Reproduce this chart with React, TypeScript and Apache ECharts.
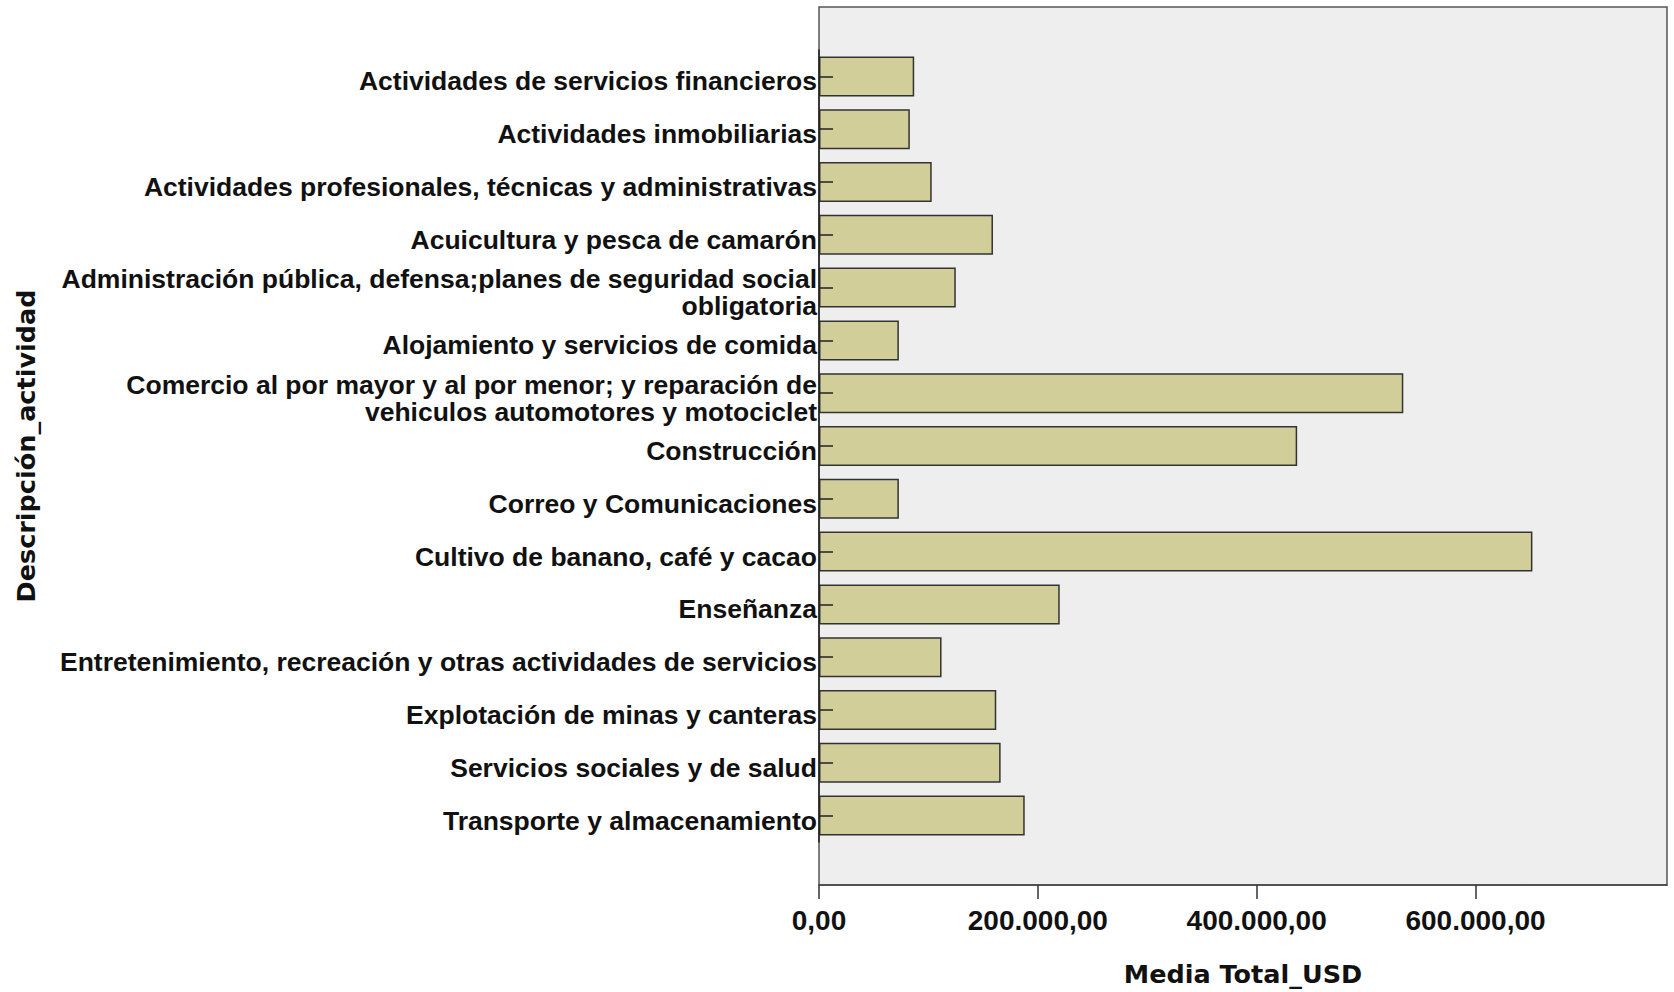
import React, { useEffect, useRef } from "react";
import * as echarts from "echarts";

const categories: string[] = [
  "Actividades de servicios financieros",
  "Actividades inmobiliarias",
  "Actividades profesionales, técnicas y administrativas",
  "Acuicultura y pesca de camarón",
  "Administración pública, defensa;planes de seguridad social\nobligatoria",
  "Alojamiento y servicios de comida",
  "Comercio al por mayor y al por menor; y reparación de\nvehiculos automotores y motociclet",
  "Construcción",
  "Correo y Comunicaciones",
  "Cultivo de banano, café y cacao",
  "Enseñanza",
  "Entretenimiento, recreación y otras actividades de servicios",
  "Explotación de minas y canteras",
  "Servicios sociales y de salud",
  "Transporte y almacenamiento",
];

const meanTotalUSD: number[] = [
  87000, 83000, 103000, 159000, 125000, 73000, 534000, 437000, 73000, 652000,
  220000, 112000, 162000, 166000, 188000,
];

const xTicks: number[] = [0, 200000, 400000, 600000];
const xMax = 775000;
const xName = "Media Total_USD";
const yName = "Descripción_actividad";

function fmt(v: number): string {
  const s = Math.round(v).toString().replace(/\B(?=(\d{3})+(?!\d))/g, ".");
  return s + ",00";
}

export default function App() {
  const ref = useRef<HTMLDivElement>(null);
  useEffect(() => {
    if (!ref.current) return;
    const chart = echarts.init(ref.current, undefined, { renderer: "svg" });
    const labelFont = "'Liberation Sans', Arial, sans-serif";
    const nameFont = "'DejaVu Sans', Verdana, sans-serif";
    chart.setOption({
      animation: false,
      backgroundColor: "#ffffff",
      grid: [
        {
          left: 819,
          right: 7,
          top: 7,
          bottom: 107,
          show: true,
          backgroundColor: "#eeeeee",
          borderColor: "#555555",
          borderWidth: 1.5,
          containLabel: false,
        },
        {
          left: 819,
          right: 7,
          top: 50,
          bottom: 150,
          containLabel: false,
        },
        {
          left: 819,
          right: 7,
          top: 55,
          bottom: 145,
          containLabel: false,
        },
      ],
      xAxis: [
        {
          gridIndex: 0,
          type: "value",
          min: 0,
          max: xMax,
          interval: 200000,
          splitLine: { show: false },
          axisLine: { show: true, onZero: false, lineStyle: { color: "#444", width: 1.5 } },
          axisTick: {
            show: true,
            inside: false,
            length: 14,
            customValues: xTicks,
            lineStyle: { color: "#333", width: 1.5 },
          },
          axisLabel: {
            show: true,
            customValues: xTicks,
            margin: 21,
            fontFamily: labelFont,
            fontWeight: "bold",
            fontSize: 28,
            color: "#111",
            formatter: (v: number) => fmt(v),
          },
          name: xName,
          nameLocation: "middle",
          nameGap: 76,
          nameTextStyle: {
            fontFamily: nameFont,
            fontWeight: "bold",
            fontSize: 25.5,
            color: "#111",
          },
        },
        {
          gridIndex: 1,
          type: "value",
          min: 0,
          max: xMax,
          show: false,
          splitLine: { show: false },
        },
        {
          gridIndex: 2,
          type: "value",
          min: 0,
          max: xMax,
          show: false,
          splitLine: { show: false },
        },
      ],
      yAxis: [
        {
          gridIndex: 0,
          type: "value",
          show: false,
          splitLine: { show: false },
        },
        {
          gridIndex: 1,
          type: "category",
          data: categories,
          inverse: true,
          z: 5,
          axisLine: { show: true, lineStyle: { color: "#222", width: 1.5 } },
          axisTick: {
            show: true,
            inside: true,
            length: 14,
            alignWithLabel: true,
            lineStyle: { color: "#222", width: 1.5 },
          },
          axisLabel: { show: false },
          splitLine: { show: false },
        },
        {
          gridIndex: 2,
          type: "category",
          data: categories,
          inverse: true,
          axisLine: { show: false },
          axisTick: { show: false },
          axisLabel: {
            margin: 2,
            fontFamily: labelFont,
            fontWeight: "bold",
            fontSize: 26.5,
            lineHeight: 27,
            color: "#111",
            align: "right",
            interval: 0,
          },
          splitLine: { show: false },
        },
      ],
      series: [
        {
          type: "bar",
          xAxisIndex: 1,
          yAxisIndex: 1,
          data: meanTotalUSD,
          barWidth: 40,
          z: 2,
          itemStyle: {
            color: "#d2ce99",
            borderColor: "#333333",
            borderWidth: 1.5,
          },
          silent: true,
        },
      ],
      graphic: [
        {
          type: "text",
          x: 26,
          y: 446,
          rotation: Math.PI / 2,
          style: {
            text: yName,
            fontFamily: nameFont,
            fontWeight: "bold",
            fontSize: 25.5,
            fill: "#111",
            align: "center",
            verticalAlign: "middle",
          },
        },
      ],
    });
    return () => chart.dispose();
  }, []);
  return (
    <div
      ref={ref}
      style={{ position: "fixed", left: 0, top: 0, width: 1674, height: 992 }}
    />
  );
}
